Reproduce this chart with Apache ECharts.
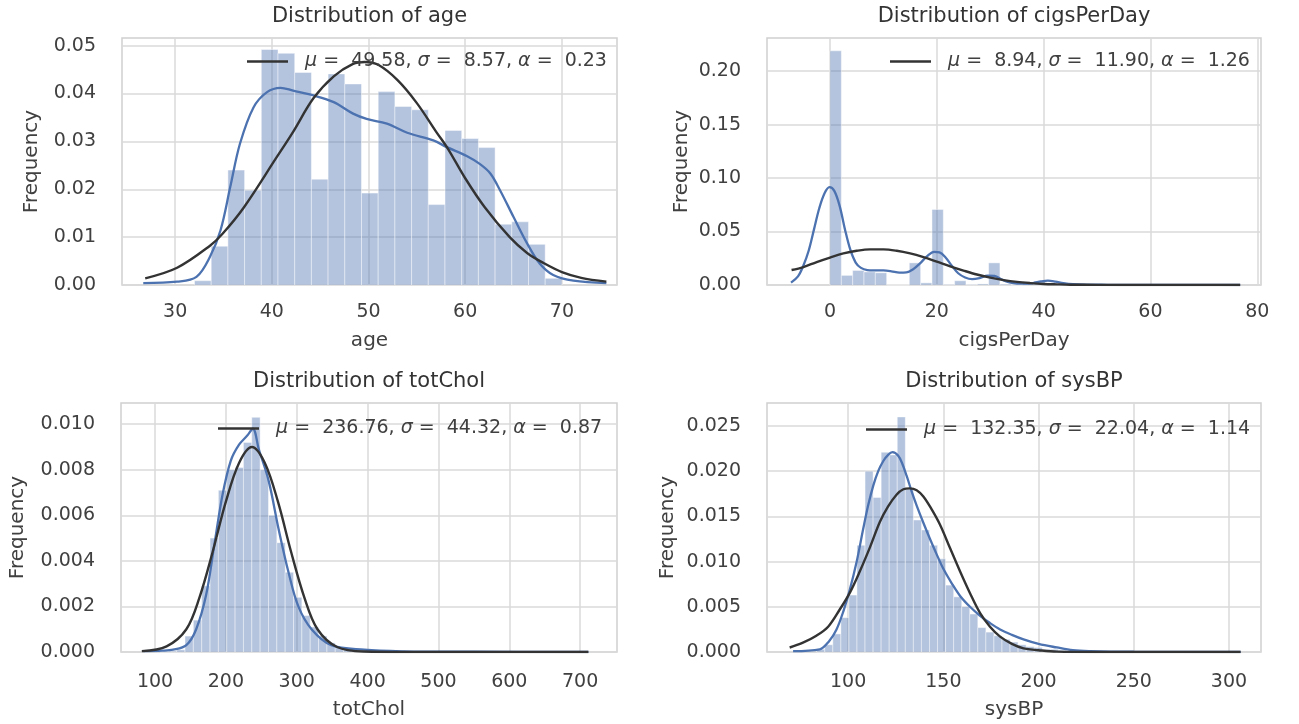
<!DOCTYPE html>
<html lang="en">
<head>
    <meta charset="UTF-8">
    <title>Distributions</title>
    <style type="text/css">
        html, body { margin: 0; background: #ffffff; }
        #chart { width: 1299px; height: 724px; }
    </style>
</head>
<body>
<div id="chart"></div>
<script type="text/javascript" src="https://cdn.jsdelivr.net/npm/echarts@6/dist/echarts.min.js"></script>
<script type="text/javascript">
    // ---- age ----
    var ageBinStart = 32, ageBinWidth = 38 / 22;
    var ageHist = [0.0009, 0.0081, 0.0240, 0.0198, 0.0492, 0.0484, 0.0444, 0.0221, 0.0441, 0.0420, 0.0192,
        0.0404, 0.0373, 0.0366, 0.0168, 0.0323, 0.0306, 0.0287, 0.0127, 0.0132, 0.0085, 0.0014];
    var ageKde = [[26.7, 0.0004], [30.2, 0.0007], [32.2, 0.0017], [33.6, 0.0059], [34.7, 0.0115], [35.7, 0.0205],
        [36.7, 0.0295], [38.1, 0.0371], [39.5, 0.0403], [40.9, 0.0412], [42.2, 0.0406], [44.3, 0.0396],
        [46.4, 0.0382], [48.4, 0.0358], [49.8, 0.0347], [51.9, 0.0337], [54.0, 0.0318], [56.7, 0.0302],
        [58.1, 0.0288], [60.2, 0.0269], [61.5, 0.0253], [62.6, 0.0233], [63.6, 0.0198], [65.0, 0.0142],
        [66.4, 0.0087], [67.7, 0.0045], [69.1, 0.0021], [71.2, 0.0009], [74.6, 0.0004]];
    var ageFit = [[26.9, 0.0014], [30.2, 0.0036], [33.6, 0.0082], [34.9, 0.0107], [37.1, 0.0162], [40.5, 0.0267],
        [42.2, 0.0320], [44.3, 0.0390], [46.4, 0.0436], [48.4, 0.0462], [49.6, 0.0466], [51.0, 0.0460],
        [53.0, 0.0428], [55.0, 0.0380], [57.0, 0.0320], [58.2, 0.0285], [60.0, 0.0223], [62.0, 0.0163],
        [64.6, 0.0100], [66.4, 0.0067], [68.1, 0.0046], [70.0, 0.0027], [72.0, 0.0015], [74.6, 0.0007]];
    var ageXTicks = [30, 40, 50, 60, 70];
    var ageYTicks = [0, 0.01, 0.02, 0.03, 0.04, 0.05];

    // ---- cigsPerDay ----
    var cigsBinStart = 0, cigsBinWidth = 70 / 33;
    var cigsHist = [0.2190, 0.0090, 0.0136, 0.0123, 0.0114, 0, 0, 0.0207, 0.0020, 0.0707, 0.0005, 0.0040,
        0.0003, 0.0010, 0.0207, 0.0008, 0, 0.0016, 0.0037, 0.0002, 0.0006, 0.0003, 0, 0.0004, 0, 0, 0, 0,
        0.0002, 0, 0, 0, 0.0001];
    var cigsKde = [[-7.3, 0.0022], [-6.0, 0.0080], [-5.0, 0.0180], [-4.0, 0.0320], [-3.0, 0.0520], [-2.0, 0.0720],
        [-1.0, 0.0860], [-0.1, 0.0915], [0.8, 0.0880], [1.8, 0.0740], [2.8, 0.0520], [3.8, 0.0330],
        [4.8, 0.0210], [5.8, 0.0160], [7.0, 0.0140], [8.5, 0.0137], [10.0, 0.0136], [11.5, 0.0128],
        [13.0, 0.0116], [14.3, 0.0118], [15.5, 0.0145], [16.8, 0.0200], [18.2, 0.0270], [19.5, 0.0310],
        [20.5, 0.0305], [21.6, 0.0260], [22.8, 0.0180], [24.0, 0.0110], [25.3, 0.0070], [26.6, 0.0055],
        [28.0, 0.0065], [29.5, 0.0088], [30.8, 0.0085], [32.2, 0.0050], [33.6, 0.0024], [35.0, 0.0013],
        [36.5, 0.0012], [38.0, 0.0018], [39.5, 0.0033], [40.8, 0.0040], [42.2, 0.0032], [43.7, 0.0018],
        [45.5, 0.0008], [48.0, 0.0003], [52.0, 0.0002], [58.0, 0.0001], [64.0, 0.0001], [70.0, 0.0001],
        [76.8, 0.0]];
    var cigsFit = [[-7.2, 0.0140], [-5.0, 0.0168], [-2.5, 0.0215], [0, 0.0257], [2.5, 0.0295], [5.0, 0.0320],
        [7.5, 0.0333], [10.0, 0.0333], [12.5, 0.0320], [15.0, 0.0295], [17.5, 0.0260], [20.0, 0.0218],
        [22.5, 0.0175], [25.0, 0.0135], [27.5, 0.0098], [30.0, 0.0069], [32.5, 0.0046], [35.0, 0.0029],
        [37.5, 0.0018], [40.0, 0.0010], [42.5, 0.0006], [45.0, 0.0003], [50.0, 0.0001], [60.0, 0.0],
        [76.8, 0.0]];
    var cigsXTicks = [0, 20, 40, 60, 80];
    var cigsYTicks = [0, 0.05, 0.10, 0.15, 0.20];

    // ---- totChol ----
    var cholBinStart = 107, cholBinWidth = 589 / 50;
    var cholHist = [0.00002, 0.00004, 0.0001, 0.0007, 0.0014, 0.0029, 0.0050, 0.0071, 0.0080, 0.0081, 0.0092,
        0.0103, 0.0080, 0.0060, 0.0048, 0.0035, 0.0024, 0.0016, 0.0011, 0.0007, 0.0004, 0.0002, 0.00012,
        0.00008, 0.00004, 0.00003, 0.00002, 0, 0.00002, 0, 0, 0.00001, 0, 0, 0, 0, 0, 0, 0, 0, 0, 0, 0, 0,
        0, 0, 0, 0, 0, 0.00001];
    var cholKde = [[83.7, 0.00004], [110, 0.00006], [125.6, 0.0001], [144.2, 0.0003], [158.1, 0.0010],
        [172.1, 0.0025], [183.7, 0.0047], [195.3, 0.0069], [207.0, 0.0084], [218.6, 0.0091], [230.2, 0.0095],
        [238.1, 0.0098], [246.5, 0.0089], [260.5, 0.0075], [274.4, 0.0054], [288.4, 0.0035], [302.3, 0.0020],
        [320.9, 0.0010], [348.8, 0.0003], [395.3, 0.0001], [450, 0.00003], [550, 0.00001], [711.6, 0.0]];
    var cholFit = [[81.4, 0.00004], [116.3, 0.00025], [144.2, 0.0010], [162.8, 0.0024], [181.4, 0.0044],
        [200, 0.0066], [218.6, 0.0083], [236.8, 0.0090], [255, 0.0083], [273.5, 0.0066], [292, 0.0044],
        [310.7, 0.0024], [329.3, 0.0010], [357, 0.00022], [395.3, 0.00002], [450, 0.0], [711.6, 0.0]];
    var cholXTicks = [100, 200, 300, 400, 500, 600, 700];
    var cholYTicks = [0, 0.002, 0.004, 0.006, 0.008, 0.010];

    // ---- sysBP ----
    var bpBinStart = 83.5, bpBinWidth = 211.5 / 50;
    var bpHist = [0.0003, 0.0008, 0.0020, 0.0038, 0.0063, 0.0118, 0.0200, 0.0171, 0.0221, 0.0218, 0.0260,
        0.0180, 0.0146, 0.0135, 0.0118, 0.0103, 0.0074, 0.0061, 0.0050, 0.0042, 0.0027, 0.0022, 0.0018,
        0.0014, 0.0011, 0.0008, 0.0006, 0.0005, 0.0003, 0.0003, 0.0002, 0.0001, 0.0001, 0.0001, 0.00005,
        0.00005, 0, 0.00003, 0, 0, 0.00002, 0, 0, 0, 0, 0, 0, 0, 0, 0.00001];
    var bpKde = [[71.1, 0.0001], [85.1, 0.0003], [90, 0.0012], [93.9, 0.0025], [97.5, 0.0045], [100.9, 0.0069],
        [104.5, 0.0100], [107.9, 0.0136], [110.5, 0.0162], [113.2, 0.0184], [115.8, 0.0200], [118.4, 0.0211],
        [121, 0.0218], [123.3, 0.0221], [126.3, 0.0217], [128.5, 0.0208], [130.7, 0.0195], [133.3, 0.0178],
        [136.0, 0.0162], [139.5, 0.0143], [143.0, 0.0125], [146.5, 0.0108], [150.0, 0.0092], [154.4, 0.0076],
        [158.8, 0.0062], [164, 0.0050], [169.3, 0.0040], [174.5, 0.0032], [179.8, 0.0025], [186, 0.0019],
        [192.1, 0.0014], [200, 0.0009], [209.6, 0.0005], [218, 0.0002], [227.2, 0.0001], [250, 0.00003],
        [306.1, 0.0]];
    var bpFit = [[69.3, 0.0005], [76, 0.0010], [83.3, 0.0018], [89.5, 0.0028], [95.6, 0.0047], [101, 0.0066],
        [106.1, 0.0089], [111.5, 0.0116], [116.7, 0.0144], [121, 0.0161], [125.4, 0.0174], [129, 0.0180],
        [132.4, 0.0181], [136, 0.0179], [139.5, 0.0172], [143.8, 0.0158], [148.2, 0.0141], [153.5, 0.0115],
        [158.8, 0.0089], [164, 0.0065], [169.3, 0.0043], [174.5, 0.0028], [179.8, 0.0017], [186, 0.0009],
        [192.1, 0.0004], [200, 0.0002], [209.6, 0.00004], [230, 0.0], [306.1, 0.0]];
    var bpXTicks = [100, 150, 200, 250, 300];
    var bpYTicks = [0, 0.005, 0.010, 0.015, 0.020, 0.025];

    var fitLabels = {
        age: '{i|μ} =  49.58, {i|σ} =  8.57, {i|α} =  0.23',
        cigsPerDay: '{i|μ} =  8.94, {i|σ} =  11.90, {i|α} =  1.26',
        totChol: '{i|μ} =  236.76, {i|σ} =  44.32, {i|α} =  0.87',
        sysBP: '{i|μ} =  132.35, {i|σ} =  22.04, {i|α} =  1.14'
    };

    var font = 'DejaVu Sans';
    var textColor = '#404040';
    var gridColor = '#dadada';
    var barFill = 'rgba(76,114,176,0.42)';
    var kdeColor = '#4c72b0';
    var fitColor = '#333333';

    var panels = [
        {key: 'age', box: [122, 38, 495, 247], xMin: 24.5, xMax: 75.7, yMax: 0.0516, dec: 2,
            xTicks: ageXTicks, yTicks: ageYTicks, start: ageBinStart, width: ageBinWidth,
            hist: ageHist, kde: ageKde, fit: ageFit, legend: [247, 52], yGap: 80, xMargin: 18, xGap: 46},
        {key: 'cigsPerDay', box: [767, 38, 494, 247], xMin: -11.8, xMax: 80.7, yMax: 0.231, dec: 2,
            xTicks: cigsXTicks, yTicks: cigsYTicks, start: cigsBinStart, width: cigsBinWidth,
            hist: cigsHist, kde: cigsKde, fit: cigsFit, legend: [890, 52], yGap: 75, xMargin: 18, xGap: 46},
        {key: 'totChol', box: [121, 403, 496, 249], xMin: 52, xMax: 752, yMax: 0.01093, dec: 3,
            xTicks: cholXTicks, yTicks: cholYTicks, start: cholBinStart, width: cholBinWidth,
            hist: cholHist, kde: cholKde, fit: cholFit, legend: [218, 419], yGap: 93, xMargin: 21, xGap: 48},
        {key: 'sysBP', box: [767, 403, 494, 249], xMin: 57.4, xMax: 316.8, yMax: 0.02754, dec: 3,
            xTicks: bpXTicks, yTicks: bpYTicks, start: bpBinStart, width: bpBinWidth,
            hist: bpHist, kde: bpKde, fit: bpFit, legend: [866, 420], yGap: 89, xMargin: 21, xGap: 48}
    ];

    var grids = [], xAxes = [], yAxes = [], series = [], legends = [], titles = [];

    panels.forEach(function (p, idx) {
        grids.push({
            left: p.box[0], top: p.box[1], width: p.box[2], height: p.box[3],
            show: true, borderColor: '#d0d0d0', borderWidth: 1.5, backgroundColor: '#ffffff',
            outerBoundsMode: 'none'
        });
        xAxes.push({
            gridIndex: idx, type: 'value', min: p.xMin, max: p.xMax,
            name: p.key, nameLocation: 'middle', nameGap: p.xGap,
            nameTextStyle: {fontFamily: font, fontSize: 20, color: textColor},
            axisLine: {show: false},
            axisTick: {show: false, customValues: p.xTicks},
            axisLabel: {customValues: p.xTicks, fontFamily: font, fontSize: 19, color: textColor, margin: p.xMargin},
            splitLine: {show: true, lineStyle: {color: gridColor, width: 1.5}}
        });
        yAxes.push({
            gridIndex: idx, type: 'value', min: 0, max: p.yMax,
            name: 'Frequency', nameLocation: 'middle', nameGap: p.yGap,
            nameTextStyle: {fontFamily: font, fontSize: 20, color: textColor},
            axisLine: {show: false},
            axisTick: {show: false, customValues: p.yTicks},
            axisLabel: {
                customValues: p.yTicks, fontFamily: font, fontSize: 19, color: textColor, margin: 26,
                formatter: (function (d) { return function (v) { return v.toFixed(d); }; })(p.dec)
            },
            splitLine: {show: true, lineStyle: {color: gridColor, width: 1.5}}
        });

        var bins = p.hist.map(function (h, i) {
            return [p.start + i * p.width, p.start + (i + 1) * p.width, h];
        });
        series.push({
            type: 'custom', name: p.key + ' hist', xAxisIndex: idx, yAxisIndex: idx,
            data: bins, encode: {x: [0, 1], y: 2}, silent: true, z: 1,
            renderItem: function (params, api) {
                var p0 = api.coord([api.value(0), api.value(2)]);
                var p1 = api.coord([api.value(1), 0]);
                return {
                    type: 'rect',
                    shape: {x: p0[0], y: p0[1], width: p1[0] - p0[0], height: p1[1] - p0[1]},
                    style: {fill: barFill, stroke: 'rgba(255,255,255,0.55)', lineWidth: 0.8}
                };
            }
        });
        series.push({
            type: 'line', name: p.key + ' kde', xAxisIndex: idx, yAxisIndex: idx,
            data: p.kde, smooth: 0.35, showSymbol: false, silent: true, z: 2,
            lineStyle: {color: kdeColor, width: 2.3}, itemStyle: {color: kdeColor}
        });
        series.push({
            type: 'line', name: p.key, xAxisIndex: idx, yAxisIndex: idx,
            data: p.fit, smooth: 0.35, showSymbol: false, silent: true, z: 3,
            lineStyle: {color: fitColor, width: 2.4}, itemStyle: {color: fitColor}
        });

        legends.push({
            data: [p.key], left: p.legend[0], top: p.legend[1], padding: 0,
            icon: 'rect', itemWidth: 41, itemHeight: 2.6, selectedMode: false,
            formatter: function (name) { return fitLabels[name]; },
            textStyle: {
                fontFamily: font, fontSize: 19, color: textColor, padding: [0, 0, 0, 12],
                rich: {i: {fontFamily: font, fontSize: 19, color: textColor, fontStyle: 'italic'}}
            }
        });

        titles.push({
            type: 'text', x: p.box[0] + p.box[2] / 2, y: p.box[1] - 21,
            style: {
                text: 'Distribution of ' + p.key, fontFamily: font, fontSize: 21,
                fill: '#333333', align: 'center', verticalAlign: 'middle'
            }
        });
    });

    var chart = echarts.init(document.getElementById('chart'), null, {renderer: 'canvas'});
    chart.setOption({
        animation: false,
        backgroundColor: '#ffffff',
        grid: grids,
        xAxis: xAxes,
        yAxis: yAxes,
        legend: legends,
        series: series,
        graphic: titles
    });
</script>
</body>
</html>
